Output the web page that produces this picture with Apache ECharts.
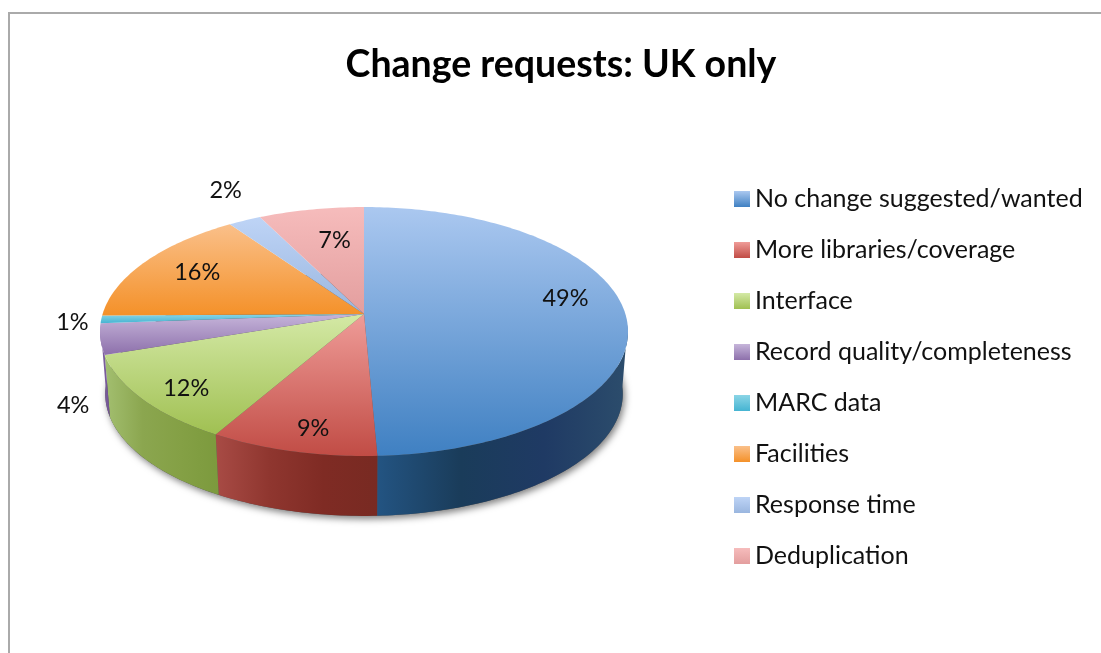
<!DOCTYPE html>
<html>
<head>
<meta charset="utf-8">
<style>
    html, body { margin: 0; padding: 0; background: #fff; }
    #main { width: 1101px; height: 653px; }
</style>
<script src="https://cdn.jsdelivr.net/npm/echarts@6/dist/echarts.min.js"></script>
</head>
<body>
<div id="main"></div>
<script>
var categories = ["No change suggested/wanted", "More libraries/coverage", "Interface", "Record quality/completeness",
    "MARC data", "Facilities", "Response time", "Deduplication"];
var shares = [49.3, 9, 11.5, 4, 1, 15.5, 2.3, 7.4]; //rounds to the printed labels
var titleText = "Change requests: UK only";

//top face gradient (top to bottom of the slice)
var topColors = [["#abc8f0", "#3f80c2"], ["#ef9c98", "#c14c45"], ["#d4e9a6", "#a0c052"], ["#c6b5da", "#8d70ab"],
    ["#8bd5e6", "#45b4d2"], ["#fac08a", "#f49129"], ["#bed4f6", "#9ab6df"], ["#f6bcbc", "#e39e9e"]];
//side wall colours, left to right
var wallColors = [["#235482", "#1a3c5a", "#1f3a64", "#2c4d6c"], ["#a84b45", "#8f362f", "#7f2b24", "#782a22"],
    ["#a3bf70", "#8ba64f", "#84a045", "#7c9a3d"], ["#8a6fa8", "#7c5f9c", "#77599a", "#70528f"],
    ["#3aa0ba", "#3aa0ba", "#3aa0ba", "#3aa0ba"], ["#c9761f", "#c9761f", "#c9761f", "#c9761f"],
    ["#8aa3cc", "#8aa3cc", "#8aa3cc", "#8aa3cc"], ["#c98a8a", "#c98a8a", "#c98a8a", "#c98a8a"]];
//where the percent text sits relative to the slice's middle
var labelShift = [[19, -14], [-3, 23], [-27, 17], [-108, 74], [-108, 5], [-11, -4], [-52, -56], [9, 2]];

//pie view: centre of the disc, radii and perspective
var cx = 364, cy = 314, radiusX = 261.4, radiusY = 122, persp = 0.1405;
var bottomScale = 0.98, bottomDrop = 62.8;
var wallFrom = 95, wallTo = 265; //only this part of the rim is seen from the front

var total = 0;
for (var i = 0; i < shares.length; i++) {
    total += shares[i];
}

//slice start angles, clockwise from the back of the disc
var startAngles = [];
var sum = 0;
for (var i = 0; i < shares.length; i++) {
    startAngles.push(sum / total * 360);
    sum += shares[i];
}

//disc point for an angle, r = 1 is the rim
function project(angle, r, scale, drop) {
    var rad = angle * Math.PI / 180;
    var u = r * Math.sin(rad);
    var v = -r * Math.cos(rad);
    var w = 1 - persp * v;
    return [cx + radiusX * scale * u / w, cy + drop + radiusY * scale * v / w];
}

function arcPoints(from, to, scale, drop) {
    var pts = [];
    var steps = Math.max(2, Math.ceil(Math.abs(to - from)));
    for (var i = 0; i <= steps; i++) {
        pts.push(project(from + (to - from) * i / steps, 1, scale, drop));
    }
    return pts;
}

function vertical(colors) {
    return new echarts.graphic.LinearGradient(0, 0, 0, 1, [
        { offset: 0, color: colors[0] },
        { offset: 1, color: colors[1] }
    ]);
}

function horizontal(colors) {
    var stops = [];
    for (var i = 0; i < colors.length; i++) {
        stops.push({ offset: i / (colors.length - 1), color: colors[i] });
    }
    return new echarts.graphic.LinearGradient(0, 0, 1, 0, stops);
}

//one slice: wall, top face and percent text
function renderSlice(index) {
    return function(params, api) {
        var value = api.value(0);
        var from = startAngles[index];
        var to = from + value / total * 360;
        var children = [];

        var a = Math.max(from, wallFrom);
        var b = Math.min(to, wallTo);
        if (b > a) {
            var upper = arcPoints(a, b, 1, 0);
            var lower = arcPoints(a, b, bottomScale, bottomDrop).reverse();
            children.push({
                type: "polygon",
                z2: 1,
                shape: { points: upper.concat(lower) },
                style: { fill: horizontal(wallColors[index]) }
            });
        }

        children.push({
            type: "polygon",
            z2: 2,
            shape: { points: [[cx, cy]].concat(arcPoints(from, to, 1, 0)) },
            style: { fill: vertical(topColors[index]) }
        });

        var mid = project((from + to) / 2, 0.7, 1, 0);
        children.push({
            type: "text",
            z2: 3,
            style: {
                text: Math.round(value) + "%",
                x: mid[0] + labelShift[index][0],
                y: mid[1] + labelShift[index][1],
                align: "center",
                verticalAlign: "middle",
                fill: "#111",
                font: "23.5px Lato"
            }
        });
        return { type: "group", children: children };
    };
}

//soft shadow under the whole pie
function renderShadow() {
    return {
        type: "polygon",
        z2: 0,
        shape: { points: arcPoints(0, 360, bottomScale, bottomDrop) },
        style: { fill: "#555", shadowBlur: 7, shadowColor: "rgba(0,0,0,0.5)", shadowOffsetX: 2, shadowOffsetY: 3 }
    };
}

var seriesList = [{
    type: "custom",
    name: "shadow",
    coordinateSystem: "none",
    silent: true,
    data: [[1]],
    renderItem: renderShadow
}];
var legendData = [];
for (var i = 0; i < categories.length; i++) {
    seriesList.push({
        type: "custom",
        name: categories[i],
        coordinateSystem: "none",
        data: [[shares[i]]],
        renderItem: renderSlice(i)
    });
    legendData.push({ name: categories[i], itemStyle: { color: vertical(topColors[i]) } });
}

var chart = echarts.init(document.getElementById("main"));
chart.setOption({
    backgroundColor: "#fff",
    animation: false,
    title: {
        text: titleText,
        left: 556,
        top: 41,
        textAlign: "center",
        textStyle: { fontFamily: "Lato", fontWeight: "bold", fontSize: 37.5, color: "#000" }
    },
    legend: {
        orient: "vertical",
        left: 729,
        top: 181,
        itemWidth: 16,
        itemHeight: 16,
        itemGap: 25,
        icon: "rect",
        selectedMode: false,
        data: legendData,
        textStyle: { fontFamily: "Lato", fontSize: 25, lineHeight: 20, color: "#111", padding: [6, 0, 0, 0] }
    },
    //frame of the pasted chart, only top and left show
    graphic: [{
        type: "polyline",
        silent: true,
        shape: { points: [[9, 653], [9, 13], [1101, 13]] },
        style: { stroke: "#aaa", lineWidth: 2, fill: null }
    }],
    series: seriesList
});
</script>
</body>
</html>
